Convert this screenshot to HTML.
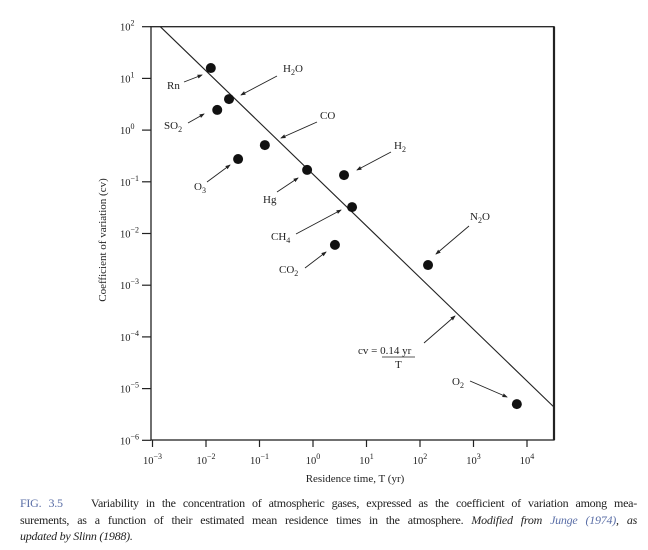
<!DOCTYPE html>
<html><head><meta charset="utf-8"><style>
body{margin:0;background:#fff;width:648px;height:550px;overflow:hidden;font-family:"Liberation Serif",serif;}
svg text{font-family:"Liberation Serif",serif;fill:#222;}
.cap{position:absolute;left:20px;top:495px;width:617px;font-size:12px;letter-spacing:-0.25px;line-height:16.5px;color:#222;}
.cap div{white-space:nowrap;}
.j{text-align:justify;text-align-last:justify;}
.blue{color:#5a6ea6;}
</style></head><body>
<svg width="648" height="490" style="position:absolute;left:0;top:0">
<defs><marker id="ah" markerWidth="6" markerHeight="6" refX="5" refY="3" orient="auto"><path d="M0,0.8 L6,3 L0,5.2 z" fill="#222"/></marker></defs>
<g id="axes"></g><g id="marks"></g><g id="ann"></g>
</svg>
<div class="cap">
<div class="j"><span class="blue">FIG. 3.5</span>&nbsp;&nbsp;&nbsp; Variability in the concentration of atmospheric gases, expressed as the coefficient of variation among mea-</div>
<div class="j">surements, as a function of their estimated mean residence times in the atmosphere. <i>Modified from <span class="blue">Junge (1974)</span>, as</i></div>
<div><i>updated by Slinn (1988).</i></div>
</div>
<script>
const gases=["Rn","H2O","SO2","CO","O3","Hg","H2","CH4","CO2","N2O","O2"];
const logT=[-1.91,-1.57,-1.79,-0.90,-1.40,-0.11,0.58,0.73,0.41,2.15,3.81];
const logCV=[1.20,0.60,0.39,-0.29,-0.56,-0.77,-0.87,-1.49,-2.22,-2.61,-5.30];
const xTickExp=[-3,-2,-1,0,1,2,3,4];
const yTickExp=[2,1,0,-1,-2,-3,-4,-5,-6];
const coef=0.14;
const NS="http://www.w3.org/2000/svg";
const X0=152.5,XD=53.5,YT=26.7,YD=51.7,L=151,R=554,B=440;
const sx=e=>X0+(e+3)*XD, sy=e=>YT+(2-e)*YD;
function mk(t,a,p){const e=document.createElementNS(NS,t);for(const k in a)e.setAttribute(k,a[k]);p.appendChild(e);return e;}
const ax=document.getElementById('axes'),mg=document.getElementById('marks'),an=document.getElementById('ann');
const frame=mk('rect',{x:L,y:YT,width:R-L,height:B-YT,fill:'none',stroke:'#222','stroke-width':1.3},ax);

mk('line',{x1:R,y1:YT,x2:R,y2:B,stroke:'#222','stroke-width':2.2},ax);
xTickExp.forEach(e=>{const x=sx(e);
 mk('line',{x1:x,y1:B,x2:x,y2:B+7,stroke:'#222','stroke-width':1.2},ax);
 const t=mk('text',{x:x,y:B+24,'text-anchor':'middle','font-size':10.5},ax);
 
 t.textContent='10';const s=mk('tspan',{dy:-5,'font-size':8},t);s.textContent=e<0?'\u2212'+(-e):e;});
yTickExp.forEach(e=>{const y=sy(e);
 mk('line',{x1:L-9,y1:y,x2:L,y2:y,stroke:'#222','stroke-width':1.2},ax);
 const t=mk('text',{x:L-31,y:y+4,'font-size':10.5},ax);
 
 t.textContent='10';const s=mk('tspan',{dy:-5,'font-size':8},t);s.textContent=e<0?'\u2212'+(-e):e;});
const lc=Math.log10(coef);
const fl=mk('line',{x1:sx(lc-2),y1:sy(2),x2:R,y2:sy(lc-((R-X0)/XD-3)),stroke:'#222','stroke-width':1.1},mg);

gases.forEach((g,i)=>{const c=mk('circle',{cx:sx(logT[i]),cy:sy(logCV[i]),r:5,fill:'#111'},mg);
 
 });
const labs=[["Rn",167,89,[184,82,202,75]],["H<tspan dy='3' font-size='8'>2</tspan><tspan dy='-3'>O</tspan>",283,72,[277,76,241,95]],
["SO<tspan dy='3' font-size='8'>2</tspan>",164,129,[188,123,204,114]],["CO",320,119,[317,122,281,138]],
["O<tspan dy='3' font-size='8'>3</tspan>",194,190,[207,182,230,165]],["Hg",263,203,[277,192,298,178]],
["H<tspan dy='3' font-size='8'>2</tspan>",394,149,[391,152,357,170]],["CH<tspan dy='3' font-size='8'>4</tspan>",271,240,[296,234,341,210]],
["CO<tspan dy='3' font-size='8'>2</tspan>",279,273,[305,268,326,252]],["N<tspan dy='3' font-size='8'>2</tspan><tspan dy='-3'>O</tspan>",470,220,[469,226,436,254]],
["O<tspan dy='3' font-size='8'>2</tspan>",452,385,[470,381,507,397]]];
labs.forEach(l=>{const t=mk('text',{x:l[1],y:l[2],'font-size':11},an);t.innerHTML=l[0];
 
 const a=l[3];mk('line',{x1:a[0],y1:a[1],x2:a[2],y2:a[3],stroke:'#222','stroke-width':0.9,'marker-end':'url(#ah)'},an);});
const eq=mk('text',{x:358,y:354,'font-size':11},an);eq.textContent='cv = 0.14 yr';

mk('line',{x1:382,y1:357,x2:415,y2:357,stroke:'#222','stroke-width':0.8},an);
const tt=mk('text',{x:395,y:368,'font-size':11},an);tt.textContent='T';
mk('line',{x1:424,y1:343,x2:455,y2:316,stroke:'#222','stroke-width':0.9,'marker-end':'url(#ah)'},an);
const xt=mk('text',{x:355,y:482,'text-anchor':'middle','font-size':11},ax);xt.textContent='Residence time, T (yr)';

const yt=mk('text',{x:0,y:0,'text-anchor':'middle','font-size':11,transform:'translate(106,240) rotate(-90)'},ax);yt.textContent='Coefficient of variation (cv)';

</script>
</body></html>
